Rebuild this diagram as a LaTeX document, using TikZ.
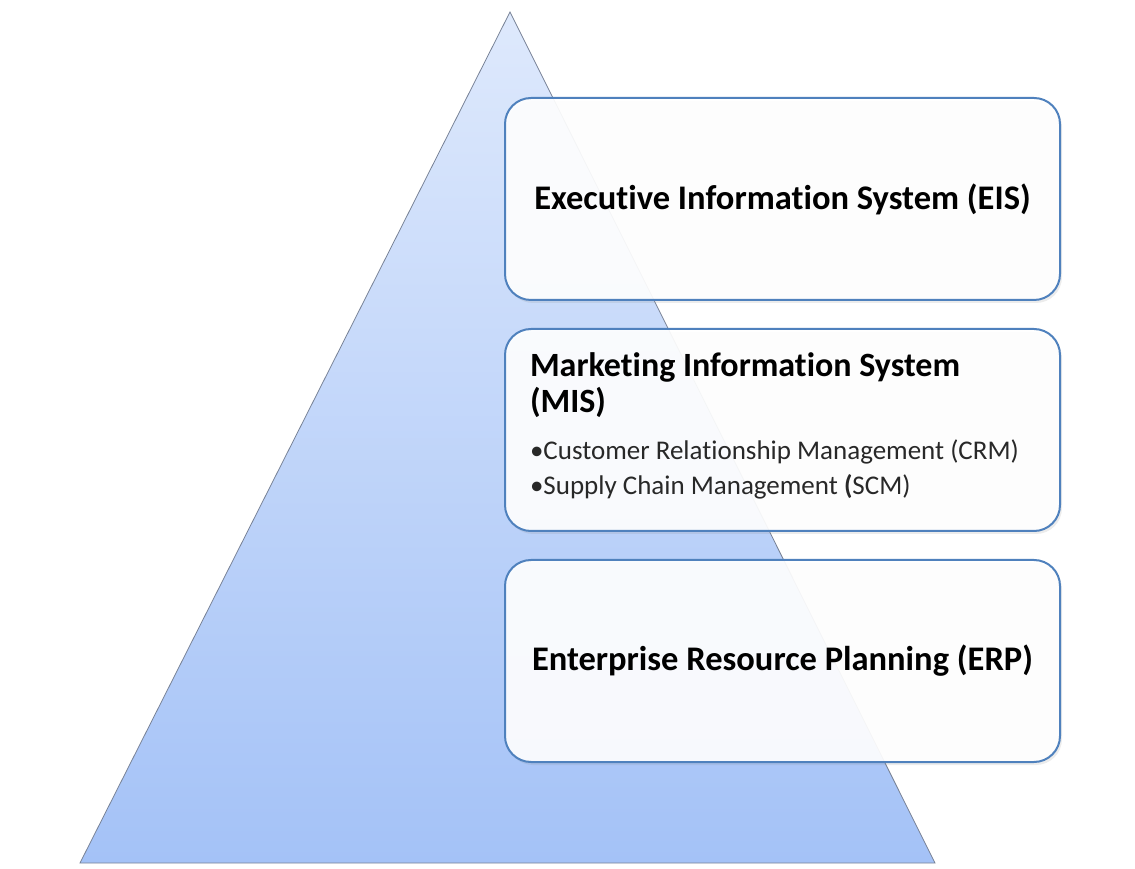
\documentclass[tikz,border=0pt]{standalone}
\usepackage{fontspec}
\setmainfont{Carlito}[Ligatures=CommonOff]
\usetikzlibrary{positioning, shadows}
\definecolor{pyrtop}{RGB}{222,233,252}
\definecolor{pyrbottom}{RGB}{164,194,247}
\definecolor{pyredge}{RGB}{120,130,150}
\definecolor{boxblue}{RGB}{79,129,189}
\definecolor{bullgray}{RGB}{40,40,40}

\begin{document}
\begin{tikzpicture}[x=1pt, y=1pt,
    layerbox/.style={draw=boxblue, line width=2pt, rounded corners=26pt,
          minimum width=555pt, minimum height=202pt,
          fill=white, fill opacity=0.92, text opacity=1,
          drop shadow={opacity=0.15, shadow xshift=2pt, shadow yshift=-3pt}},
    titletext/.style={font=\fontsize{34.5}{36}\selectfont\bfseries}]
    \useasboundingbox (0,0) rectangle (1135,868);
    % pyramid
    \coordinate (apex) at (510,856);
    \coordinate (baseL) at (80,5);
    \coordinate (baseR) at (935,5);
    \shade[top color=pyrtop, bottom color=pyrbottom, draw=pyredge, line width=0.8pt]
        (apex) -- (baseR) -- (baseL) -- cycle;
    % layers
    \node[layerbox, titletext] (eis) at (782.5,669) {Executive Information System (EIS)};
    \node[layerbox, below=27pt of eis, text width=505pt, align=left] (mis) {%
        \spaceskip=0pt\xspaceskip=0pt
        \fontsize{34}{36}\selectfont\bfseries Marketing Information System\\(MIS)\par
        \vspace{12pt}
        \fontsize{27}{35}\selectfont\mdseries\color{bullgray}%
        \textbullet Customer Relationship Management (CRM)\\
        \textbullet Supply Chain Management \textbf{(}SCM)\par
        \vspace*{8pt}};
    \node[layerbox, titletext, below=27pt of mis] (erp) {Enterprise Resource Planning (ERP)};
\end{tikzpicture}
\end{document}
